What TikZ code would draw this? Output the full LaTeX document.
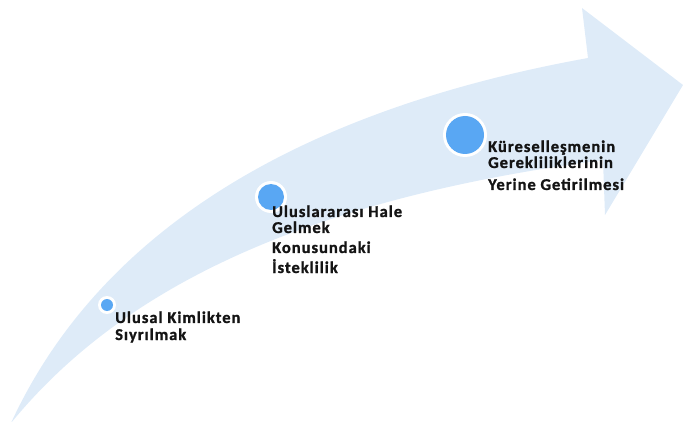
\documentclass[tikz,border=0pt]{standalone}
\usepackage{fontspec}
\setmainfont{Carlito}[LetterSpace=6,BoldFeatures={FakeBold=1.2}]
\definecolor{bandblue}{RGB}{222,235,248}
\definecolor{dotblue}{RGB}{89,167,243}
\definecolor{txtgray}{RGB}{20,20,20}
\begin{document}
\begin{tikzpicture}[x=1pt,y=-1pt,
  dotring/.style={circle,fill=white,inner sep=0pt},
  dotcore/.style={circle,fill=dotblue,inner sep=0pt},
  lbl/.style={anchor=base west,inner sep=0pt,text=txtgray,font=\fontsize{16.5}{18}\selectfont\bfseries}]
\useasboundingbox (0,0) rectangle (683,422);
% curved arrow band
\fill[bandblue] (11,423) .. controls (100,230) and (300,110) .. (588,58)
  -- (582,8) -- (683,85) -- (605,215) -- (603,160)
  .. controls (300,200) and (120,290) .. (11,423) -- cycle;
% dots
\node[dotring,minimum size=18pt] (r1) at (107,305) {};
\node[dotcore,minimum size=12pt] (d1) at (r1) {};
\node[dotring,minimum size=32pt] (r2) at (271,197) {};
\node[dotcore,minimum size=26pt] (d2) at (r2) {};
\node[dotring,minimum size=44pt] (r3) at (465,135) {};
\node[dotcore,minimum size=38pt] (d3) at (r3) {};
% labels
\node[lbl] (a1) at (115,323) {Ulusal Kimlikten};
\node[lbl] (a2) at (115,340) {Sıyrılmak};
\node[lbl] (b1) at (272,217) {Uluslararası Hale};
\node[lbl] (b2) at (272,233) {Gelmek};
\node[lbl] (b3) at (272,253) {Konusundaki};
\node[lbl] (b4) at (272,273) {İsteklilik};
\node[lbl] (c1) at (488,152) {Küreselleşmenin};
\node[lbl] (c2) at (488,168) {Gerekliliklerinin};
\node[lbl] (c3) at (488,190) {Yerine Getirilmesi};
\end{tikzpicture}
\end{document}
